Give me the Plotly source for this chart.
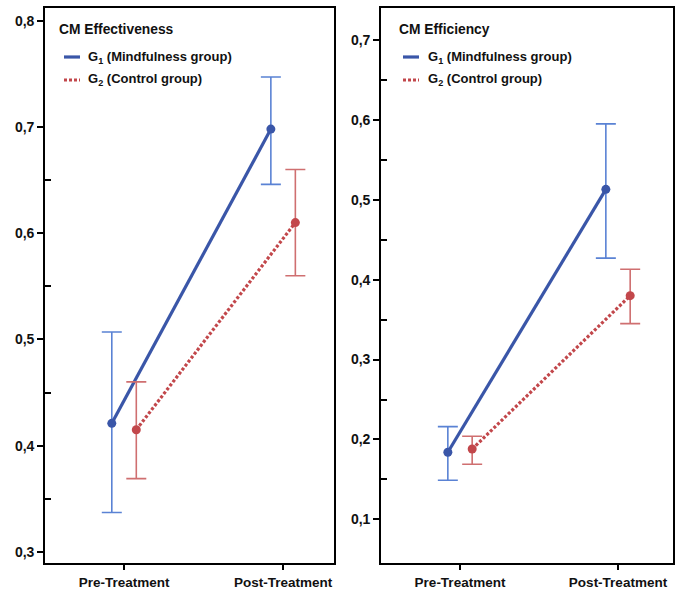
import plotly.graph_objects as go

# ---- data ----
phases = ["Pre-Treatment", "Post-Treatment"]
groups = ["G<sub>1</sub> (Mindfulness group)", "G<sub>2</sub> (Control group)"]

eff_g1_mean = [0.421, 0.698]
eff_g1_low = [0.337, 0.646]
eff_g1_high = [0.507, 0.747]
eff_g2_mean = [0.415, 0.610]
eff_g2_low = [0.369, 0.560]
eff_g2_high = [0.460, 0.660]

effi_g1_mean = [0.184, 0.513]
effi_g1_low = [0.149, 0.427]
effi_g1_high = [0.216, 0.595]
effi_g2_mean = [0.188, 0.380]
effi_g2_low = [0.169, 0.345]
effi_g2_high = [0.204, 0.413]

eff_minor_ticks = [0.35, 0.45, 0.55, 0.65]
effi_minor_ticks = [0.15, 0.25, 0.35, 0.45, 0.55, 0.65]

panel_titles = ["CM Effectiveness", "CM Efficiency"]

# ---- style ----
W, H = 675, 590
BLUE = "#3a56a8"
RED = "#c2474b"
BLUE_EB = "#5a82d4"
RED_EB = "#cf6f70"
FONT = "Liberation Sans, Arial, sans-serif"
offset = 0.077

fig = go.Figure()


def add_group(mean, low, high, xaxis, yaxis, shift, color, ebcolor, dash, name):
    xs = [i + shift for i in range(len(phases))]
    fig.add_trace(go.Scatter(
        x=xs, y=mean, mode="lines+markers", name=name, showlegend=False,
        xaxis=xaxis, yaxis=yaxis,
        line=dict(color=color, width=3.2, dash=dash),
        marker=dict(color=color, size=9),
        error_y=dict(type="data", symmetric=False,
                     array=[h - m for h, m in zip(high, mean)],
                     arrayminus=[m - l for m, l in zip(mean, low)],
                     color=ebcolor, thickness=1.6, width=10),
    ))


add_group(eff_g1_mean, eff_g1_low, eff_g1_high, "x", "y", -offset, BLUE, BLUE_EB, "solid", groups[0])
add_group(eff_g2_mean, eff_g2_low, eff_g2_high, "x", "y", offset, RED, RED_EB, "3px,2px", groups[1])
add_group(effi_g1_mean, effi_g1_low, effi_g1_high, "x2", "y2", -offset, BLUE, BLUE_EB, "solid", groups[0])
add_group(effi_g2_mean, effi_g2_low, effi_g2_high, "x2", "y2", offset, RED, RED_EB, "3px,2px", groups[1])


def px(x):
    return x / W


def py(y):
    return 1 - y / H


ydom = [py(562.5), py(8)]
xaxis_common = dict(
    tickmode="array", tickvals=[0, 1], ticktext=phases,
    showline=True, linecolor="black", linewidth=1.6, mirror=True,
    ticks="outside", ticklen=6, tickwidth=1.5, tickcolor="black",
    showgrid=False, zeroline=False,
    tickfont=dict(family=FONT, size=13.5, color="#111", weight="bold"),
)
yaxis_common = dict(
    showline=True, linecolor="black", linewidth=1.6, mirror=True,
    ticks="outside", ticklen=6, tickwidth=1.5, tickcolor="black",
    dtick=0.1, tickformat=".1f",
    showgrid=False, zeroline=False,
    tickfont=dict(family=FONT, size=14, color="#111", weight="bold"),
)
minor_common = dict(ticks="inside", ticklen=6, tickwidth=1.5, tickcolor="black", showgrid=False)

fig.update_layout(
    width=W, height=H,
    margin=dict(l=0, r=0, t=0, b=0),
    paper_bgcolor="white", plot_bgcolor="white",
    separators=",.",
    showlegend=False,
    xaxis=dict(domain=[px(45), px(334)], range=[-0.497, 1.32], anchor="y", **xaxis_common),
    yaxis=dict(domain=ydom, range=[0.290, 0.812], anchor="x", tick0=0.3,
               minor=dict(tickmode="array", tickvals=eff_minor_ticks, **minor_common),
               **yaxis_common),
    xaxis2=dict(domain=[px(381), px(673)], range=[-0.5, 1.348], anchor="y2", **xaxis_common),
    yaxis2=dict(domain=ydom, range=[0.046, 0.740], anchor="x2", tick0=0.1,
                minor=dict(tickmode="array", tickvals=effi_minor_ticks, **minor_common),
                **yaxis_common),
)

# ---- manual legends ----
legend_pos = [(57, 64, 86), (397, 403, 426)]
for (tx, sx, lx), title in zip(legend_pos, panel_titles):
    fig.add_annotation(x=px(tx), y=py(29), xref="paper", yref="paper",
                       text="<b>" + title + "</b>", showarrow=False,
                       xanchor="left", yanchor="middle",
                       font=dict(family=FONT, size=13.8, color="#111"))
    for gname, col, dash, yy in [(groups[0], BLUE, "solid", 57),
                                 (groups[1], RED, "3px,2px", 80)]:
        fig.add_shape(type="line", xref="paper", yref="paper",
                      x0=px(sx), x1=px(sx + 16), y0=py(yy), y1=py(yy),
                      line=dict(color=col, width=3.2, dash=dash))
        fig.add_annotation(x=px(lx), y=py(yy), xref="paper", yref="paper",
                           text="<b>" + gname + "</b>", showarrow=False,
                           xanchor="left", yanchor="middle",
                           font=dict(family=FONT, size=13, color="#111"))

fig.write_html("out.html", config={"displayModeBar": False},
               post_script="document.body.style.margin='0';document.body.style.overflow='hidden';")
